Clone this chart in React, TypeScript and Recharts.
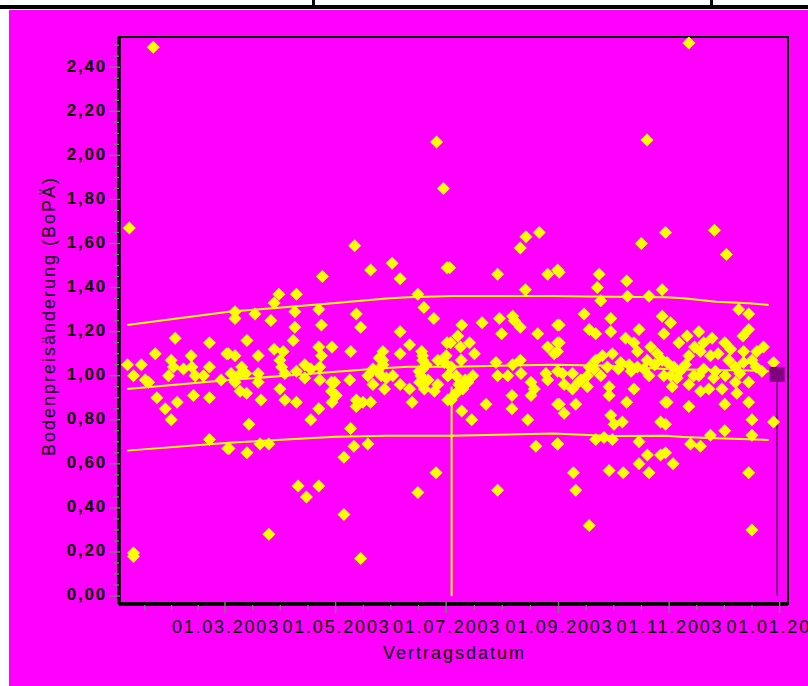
import React from 'react';
import { ComposedChart, XAxis, YAxis, Scatter, Line, ReferenceLine, ReferenceArea, Label } from 'recharts';

// Vertragsdatum als Tage seit dem 01.01.2003, Wert = Bodenpreisänderung (BoPÄ)
const punkteJanFeb = [
  [6.2, 1.67], [19.4, 2.49], [31.5, 1.17], [50.4, 1.15], [20.5, 1.10], [5.2, 1.05], [12.8, 1.05],
  [29.3, 1.07], [40.3, 1.09], [30.5, 1.04], [36.1, 1.03], [40.7, 1.04], [50.4, 1.04], [8.5, 1.00],
  [15.0, 0.98], [16.8, 0.97], [27.8, 1.00], [42.5, 1.00], [47.1, 1.00], [56.8, 0.98], [21.4, 0.90],
  [26.0, 0.85], [32.6, 0.88], [29.3, 0.80], [41.6, 0.91], [50.4, 0.90], [50.4, 0.71], [8.5, 0.18],
  [8.5, 0.195],
];

const punkteMaeApr = [
  [59.9, 1.10], [60.5, 0.67], [112.7, 1.45], [88.7, 1.37], [98.4, 1.37], [86.1, 1.33], [64.5, 1.29],
  [64.5, 1.26], [75.5, 1.28], [97.5, 1.29], [110.7, 1.30], [84.3, 1.25], [112.2, 1.23], [97.5, 1.22],
  [71.1, 1.16], [96.6, 1.16], [110.7, 1.13], [118.0, 1.13], [60.8, 1.10], [64.5, 1.09], [77.3, 1.09],
  [86.1, 1.12], [91.1, 1.11], [89.3, 1.07], [112.2, 1.09], [68.2, 1.04], [62.3, 1.01], [66.3, 1.00],
  [70.4, 1.01], [77.3, 1.01], [90.2, 1.04], [92.0, 1.01], [98.4, 1.02], [103.0, 1.05], [106.3, 1.03],
  [103.0, 0.99], [111.3, 1.04], [111.3, 0.98], [117.7, 0.97], [64.5, 0.97], [77.3, 0.97], [67.3, 0.93],
  [70.9, 0.92], [89.3, 0.94], [117.7, 0.93], [78.8, 0.89], [92.0, 0.89], [98.4, 0.88], [110.7, 0.85],
  [106.3, 0.80], [118.0, 0.88], [72.2, 0.78], [61.2, 0.67], [71.1, 0.65], [78.3, 0.69], [83.2, 0.69],
  [99.3, 0.50], [110.7, 0.50], [103.9, 0.45], [83.2, 0.28],
];

const punkteMaiJun = [
  [130.5, 1.59], [139.3, 1.48], [151.2, 1.51], [155.6, 1.44], [181.5, 1.49], [165.4, 1.37], [168.7, 1.31],
  [174.2, 1.26], [131.4, 1.28], [133.8, 1.22], [155.6, 1.20], [160.8, 1.14], [128.3, 1.11], [146.1, 1.11],
  [155.6, 1.10], [167.5, 1.11], [181.5, 1.15], [146.1, 1.07], [146.1, 1.05], [140.6, 1.03], [168.1, 1.07],
  [168.1, 1.03], [176.4, 1.07], [180.0, 1.06], [127.8, 0.98], [137.8, 1.00], [145.2, 1.00], [151.6, 1.00],
  [119.5, 0.97], [140.6, 0.96], [147.0, 0.94], [155.6, 0.96], [160.8, 0.94], [166.3, 0.97], [169.0, 0.94],
  [174.5, 0.93], [176.4, 0.96], [181.9, 1.00], [120.4, 0.91], [131.4, 0.89], [131.4, 0.86], [135.1, 0.88],
  [139.3, 0.88], [162.2, 0.88], [181.9, 0.89], [128.3, 0.76], [130.1, 0.68], [137.8, 0.69], [124.6, 0.63],
  [175.4, 0.56], [165.4, 0.47], [124.6, 0.37], [133.8, 0.17], [175.7, 2.06], [179.5, 1.85],
  [168.0, 1.09], [167.0, 1.00], [170.0, 1.05], [171.0, 0.98], [166.0, 1.02], [144.0, 1.08], [143.0, 1.02],
  [148.0, 0.99],
];

const punkteJulAug = [
  [225.0, 1.63], [232.4, 1.65], [221.9, 1.58], [182.9, 1.49], [209.4, 1.46], [237.0, 1.46], [242.5, 1.48],
  [224.7, 1.39], [189.6, 1.23], [200.8, 1.24], [210.4, 1.26], [217.7, 1.27], [221.9, 1.22], [218.6, 1.25],
  [211.6, 1.19], [231.5, 1.19], [242.5, 1.23], [187.4, 1.18], [183.4, 1.15], [193.9, 1.15], [188.9, 1.13],
  [196.6, 1.10], [237.0, 1.13], [242.5, 1.15], [240.6, 1.10], [181.0, 1.09], [189.3, 1.07], [183.8, 1.04],
  [208.5, 1.06], [217.7, 1.05], [221.9, 1.07], [209.4, 1.00], [215.0, 1.00], [222.3, 1.01], [236.0, 1.01],
  [237.0, 0.98], [242.5, 1.02], [181.9, 1.00], [186.5, 1.00], [195.7, 1.00], [193.0, 0.97], [190.2, 0.94],
  [186.5, 0.92], [183.8, 0.89], [227.8, 0.97], [229.6, 0.94], [227.8, 0.91], [217.3, 0.91], [217.3, 0.85],
  [203.0, 0.87], [189.6, 0.84], [195.1, 0.80], [226.0, 0.80], [242.5, 0.87], [230.5, 0.68], [242.5, 0.69],
  [209.4, 0.48], [188.0, 0.96], [191.5, 0.98], [185.0, 0.91],
];

const punkteSepOkt = [
  [288.7, 1.60], [302.0, 1.65], [243.4, 1.47], [265.4, 1.46], [280.6, 1.43], [264.4, 1.40], [266.3, 1.34],
  [281.0, 1.36], [292.9, 1.36], [300.2, 1.39], [257.1, 1.28], [271.8, 1.26], [243.4, 1.23], [259.9, 1.21],
  [263.5, 1.19], [271.8, 1.20], [287.4, 1.21], [300.2, 1.27], [301.1, 1.19], [243.4, 1.15], [242.4, 1.11],
  [280.0, 1.17], [284.6, 1.15], [286.5, 1.11], [293.8, 1.13], [297.5, 1.10], [272.7, 1.10], [263.5, 1.07],
  [267.2, 1.09], [277.3, 1.06], [281.9, 1.05], [286.5, 1.04], [291.9, 1.07], [300.2, 1.07], [262.6, 1.03],
  [269.9, 1.04], [292.9, 1.00], [301.1, 1.00], [245.2, 1.01], [250.7, 1.01], [255.3, 0.98], [258.9, 1.00],
  [266.3, 1.00], [246.1, 0.96], [250.7, 0.94], [258.9, 0.95], [270.9, 0.95], [270.9, 0.91], [284.6, 0.94],
  [243.4, 0.87], [246.1, 0.83], [252.5, 0.87], [280.6, 0.88], [302.0, 0.88], [271.8, 0.82], [273.6, 0.78],
  [278.2, 0.79], [299.3, 0.79], [242.4, 0.69], [263.5, 0.71], [268.1, 0.72], [272.7, 0.71], [287.4, 0.70],
  [292.0, 0.64], [299.3, 0.64], [287.4, 0.60], [292.9, 0.56], [270.9, 0.57], [278.7, 0.56], [251.2, 0.56],
  [252.5, 0.48], [259.9, 0.32], [291.8, 2.07], [276.0, 1.03], [283.0, 1.02], [290.0, 1.03], [254.0, 0.97],
  [260.0, 1.04], [296.0, 1.05],
];

const punkteNovDez = [
  [314.9, 2.51], [329.0, 1.66], [335.6, 1.55], [342.4, 1.30], [347.9, 1.28], [347.9, 1.21], [344.7, 1.18],
  [304.8, 1.24], [320.4, 1.20], [309.4, 1.15], [313.9, 1.18], [323.1, 1.15], [327.7, 1.17], [334.7, 1.15],
  [356.1, 1.13], [352.4, 1.11], [345.1, 1.11], [314.9, 1.09], [321.3, 1.11], [326.8, 1.09], [336.9, 1.07],
  [349.7, 1.07], [361.6, 1.06], [302.9, 1.06], [306.6, 1.04], [313.0, 1.05], [323.1, 1.03], [329.5, 1.02],
  [340.5, 1.04], [345.1, 1.06], [355.2, 1.02], [304.8, 1.00], [308.4, 0.99], [317.6, 1.00], [320.4, 1.00],
  [328.6, 0.99], [335.0, 1.00], [340.5, 0.97], [347.9, 0.97], [305.7, 0.95], [314.9, 0.96], [321.3, 0.93],
  [325.9, 0.94], [333.2, 0.94], [341.4, 0.92], [302.9, 0.88], [314.9, 0.86], [334.7, 0.87], [347.9, 0.88],
  [349.7, 0.80], [361.6, 0.79], [302.0, 0.78], [334.7, 0.75], [326.8, 0.73], [315.8, 0.69], [321.3, 0.68],
  [349.7, 0.73], [306.2, 0.60], [302.0, 0.65], [347.9, 0.56], [349.7, 0.30], [318.0, 1.13], [331.0, 1.10],
  [338.0, 1.12], [343.0, 1.01], [352.0, 1.04], [310.0, 1.02],
];

// gleitende Linien (obere Grenze, Mittelwert, untere Grenze)
const linienTage = [5, 61, 120, 148, 160, 184, 240, 272, 302, 312, 330, 348, 359];
const obereGrenze = [1.23, 1.29, 1.33, 1.35, 1.356, 1.362, 1.362, 1.358, 1.356, 1.351, 1.336, 1.329, 1.321];
const mittelwert = [0.94, 0.98, 1.018, 1.035, 1.041, 1.041, 1.05, 1.045, 1.03, 1.028, 1.026, 1.024, 1.02];
const untereGrenze = [0.66, 0.696, 0.723, 0.728, 0.728, 0.727, 0.738, 0.726, 0.727, 0.722, 0.716, 0.712, 0.708];

const markerTag = 184;
const markerWert = 0.95;
const stichtag = 363.6;
const stichtagWert = 1.006;

const xHauptTicks = [59, 120, 181, 243, 304, 365];
const xTickLabels = ['01.03.2003', '01.05.2003', '01.07.2003', '01.09.2003', '01.11.2003', '01.01.2004'];
const yHauptTicks = [0, 0.2, 0.4, 0.6, 0.8, 1.0, 1.2, 1.4, 1.6, 1.8, 2.0, 2.2, 2.4];

const X_DOMAIN: [number, number] = [0.5, 369.6];
const Y_DOMAIN: [number, number] = [-0.036, 2.537];

const punkte = [...punkteJanFeb, ...punkteMaeApr, ...punkteMaiJun, ...punkteJulAug, ...punkteSepOkt, ...punkteNovDez]
  .map(([tag, wert]) => ({ tag, wert }));

const linienDaten = linienTage.map((tag, i) => ({
  tag,
  oben: obereGrenze[i],
  mitte: mittelwert[i],
  unten: untereGrenze[i],
}));

// Nebenticks: Viertel zwischen den Haupt-Datumsticks
const xStufen = [0, ...xHauptTicks];
const xTicks: number[] = [];
for (let i = 1; i < xStufen.length; i++) {
  const a = xStufen[i - 1];
  const b = xStufen[i];
  for (let k = 1; k < 4; k++) xTicks.push(a + ((b - a) * k) / 4);
  xTicks.push(b);
}
const yTicks: number[] = [];
for (let i = 0; i <= 50; i++) yTicks.push(i / 20);

const FONT = '"Liberation Sans", Arial, sans-serif';
const YELLOW = '#ffff00';
const PURPLE = '#800080';
const TICK = '#7a7a7a';

const XTick = (props: any) => {
  const { x, y, payload } = props;
  const idx = xHauptTicks.indexOf(payload.value);
  if (idx < 0) {
    return <line x1={x} x2={x} y1={y + 1} y2={y + 6} stroke={TICK} strokeWidth={1.5} />;
  }
  return (
    <g>
      <line x1={x} x2={x} y1={y - 2} y2={y + 9} stroke={TICK} strokeWidth={1.5} />
      <text x={x + 0.9} y={y + 28.7} textAnchor="middle" fontFamily={FONT} fontSize={18} letterSpacing={1.8} fill="#000">
        {xTickLabels[idx]}
      </text>
    </g>
  );
};

const YTick = (props: any) => {
  const { x, y, payload } = props;
  const v = payload.value;
  const haupt = yHauptTicks.some((t) => Math.abs(t - v) < 1e-6);
  if (!haupt) {
    return <line x1={x - 5} x2={x} y1={y} y2={y} stroke={TICK} strokeWidth={1.5} />;
  }
  return (
    <g>
      <line x1={x - 10} x2={x + 1} y1={y} y2={y} stroke={TICK} strokeWidth={1.5} />
      <text x={x - 12} y={y + 4.4} textAnchor="end" fontFamily={FONT} fontSize={17} fontWeight="bold" letterSpacing={1.8} fill="#000">
        {v.toFixed(2).replace('.', ',')}
      </text>
    </g>
  );
};

const Raute = (props: any) => {
  const { cx, cy } = props;
  if (cx == null || cy == null) return null;
  const r = 6.5;
  return <polygon points={`${cx},${cy - r} ${cx + r},${cy} ${cx},${cy + r} ${cx - r},${cy}`} fill={YELLOW} />;
};

const Quadrat = (props: any) => {
  const { cx, cy } = props;
  if (cx == null || cy == null) return null;
  return <rect x={cx - 7.5} y={cy - 7.5} width={15} height={15} fill={PURPLE} />;
};

const XTitel = (props: any) => {
  const { viewBox } = props;
  const cx = viewBox.x + viewBox.width / 2;
  return (
    <text x={cx + 1} y={viewBox.y + 55} textAnchor="middle" fontFamily={FONT} fontSize={18} letterSpacing={2} fill="#000">
      Vertragsdatum
    </text>
  );
};

const YTitel = () => (
  <text x={46} y={306} transform="rotate(-90, 46, 306)" textAnchor="middle" fontFamily={FONT} fontSize={18} letterSpacing={2} fill="#000">
    Bodenpreisänderung (BoPÄ)
  </text>
);

const App = () => {
  return (
    <div style={{ position: 'absolute', left: 0, top: 0, width: 808, height: 686, overflow: 'hidden', background: '#fff' }}>
      <div style={{ position: 'absolute', left: 0, top: 5, width: 808, height: 4, background: '#000' }} />
      <div style={{ position: 'absolute', left: 312, top: 0, width: 3, height: 6, background: '#000' }} />
      <div style={{ position: 'absolute', left: 710, top: 0, width: 3, height: 6, background: '#000' }} />
      <div style={{ position: 'absolute', left: 9, top: 10, width: 799, height: 676, background: '#ff00ff', overflow: 'hidden' }}>
        <ComposedChart width={799} height={676} margin={{ top: 27, right: 20, bottom: 22, left: 0 }}>
          <XAxis
            type="number"
            dataKey="tag"
            domain={X_DOMAIN}
            allowDataOverflow
            ticks={xTicks}
            interval={0}
            tick={<XTick />}
            tickLine={false}
            tickSize={0}
            tickMargin={0}
            height={60}
            axisLine={{ stroke: '#000', strokeWidth: 4 }}
          >
            <Label content={<XTitel />} />
          </XAxis>
          <YAxis
            type="number"
            domain={Y_DOMAIN}
            allowDataOverflow
            ticks={yTicks}
            interval={0}
            tick={<YTick />}
            tickLine={false}
            tickSize={0}
            tickMargin={0}
            width={110}
            axisLine={{ stroke: '#000', strokeWidth: 3.5 }}
          >
            <Label content={<YTitel />} />
          </YAxis>
          <ReferenceArea x1={X_DOMAIN[0]} x2={X_DOMAIN[1]} y1={Y_DOMAIN[0]} y2={Y_DOMAIN[1]} fill="none" stroke="#000" strokeWidth={2} ifOverflow="visible" />
          <Line data={linienDaten} dataKey="oben" type="linear" stroke={YELLOW} strokeWidth={2} dot={false} isAnimationActive={false} />
          <Line data={linienDaten} dataKey="mitte" type="linear" stroke={YELLOW} strokeWidth={2} dot={false} isAnimationActive={false} />
          <Line data={linienDaten} dataKey="unten" type="linear" stroke={YELLOW} strokeWidth={2} dot={false} isAnimationActive={false} />
          <ReferenceLine segment={[{ x: markerTag, y: 0 }, { x: markerTag, y: markerWert }]} stroke={YELLOW} strokeWidth={2} />
          <Scatter data={punkte} dataKey="wert" shape={<Raute />} isAnimationActive={false} />
          <ReferenceLine segment={[{ x: stichtag, y: 0 }, { x: stichtag, y: stichtagWert }]} stroke={PURPLE} strokeWidth={2} />
          <Scatter data={[{ tag: stichtag, wert: stichtagWert }]} dataKey="wert" shape={<Quadrat />} isAnimationActive={false} />
        </ComposedChart>
      </div>
    </div>
  );
};

export default App;
